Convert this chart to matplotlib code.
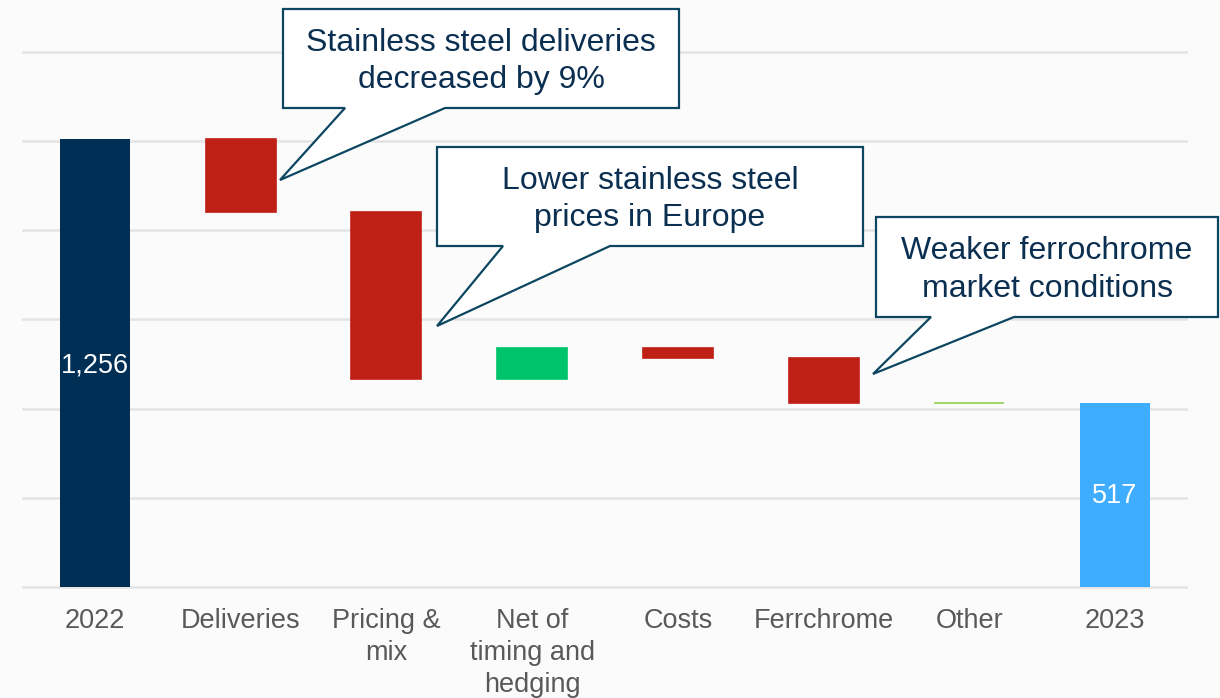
import matplotlib
import matplotlib.pyplot as plt
from matplotlib.patches import Polygon

matplotlib.use("Agg")

plt.rcParams["font.family"] = ["Liberation Sans", "DejaVu Sans"]

categories = ["2022", "Deliveries", "Pricing &\nmix", "Net of\ntiming and\nhedging",
              "Costs", "Ferrchrome", "Other", "2023"]
start_value = 1256
deltas = [-205, -467, 85, -26, -126, 0]
end_value = 517
delta_colors = ["#be2016", "#be2016", "#00c46a", "#be2016", "#be2016", "#92d050"]

callouts = [
    ("Stainless steel deliveries\ndecreased by 9%", (283, 9, 679, 108), (345, 445), (280, 180)),
    ("Lower stainless steel\nprices in Europe", (437, 147, 863, 246), (503, 610), (437, 326)),
    ("Weaker ferrochrome\nmarket conditions", (876, 217, 1218, 317), (931, 1014), (873, 374)),
]

W, H = 1220, 698
fig = plt.figure(figsize=(W / 100, H / 100), dpi=100, facecolor="#fbfbfb")
ax = fig.add_axes([22 / W, 1 - 589 / H, (1188 - 22) / W, (589 - 50) / H])
ax.set_facecolor("#fbfbfb")

width = 0.48
ax.bar(0, start_value, width=width, color="#002f56", zorder=3)
level = start_value
for i, (d, c) in enumerate(zip(deltas, delta_colors), start=1):
    bottom = level + min(d, 0)
    ax.bar(i, abs(d), bottom=bottom, width=width, color=c,
           edgecolor=c, linewidth=1.2, zorder=3)
    level += d
ax.bar(len(categories) - 1, end_value, width=width, color="#3fadff", zorder=3)

ax.text(0, 622, f"{start_value:,}", color="white", ha="center", va="center",
        fontsize=19.5, zorder=4)
ax.text(len(categories) - 1, 255, f"{end_value:,}", color="white", ha="center",
        va="center", fontsize=19.5, zorder=4)

ax.set_xlim(-0.5, len(categories) - 0.5)
ax.set_ylim(-5, 1505)
ax.set_yticks(range(0, 1501, 250))
ax.set_yticklabels([])
ax.tick_params(axis="y", length=0)
ax.set_xticks(range(len(categories)))
ax.set_xticklabels(categories, fontsize=19.5, color="#595959", linespacing=1.3)
ax.tick_params(axis="x", length=0, pad=14)
ax.grid(axis="y", color="#e4e4e4", linewidth=1.8, zorder=0)
ax.set_axisbelow(True)
for s in ax.spines.values():
    s.set_visible(False)


def fx(px):
    return px / W


def fy(py):
    return 1 - py / H


for text, (x0, y0, x1, y1), (b0, b1), (tx, ty) in callouts:
    pts = [(x0, y0), (x1, y0), (x1, y1), (b1, y1), (tx, ty), (b0, y1), (x0, y1)]
    poly = Polygon([(fx(x), fy(y)) for x, y in pts], closed=True,
                   transform=fig.transFigure, facecolor="white",
                   edgecolor="#0d4661", linewidth=1.6, joinstyle="miter", zorder=5)
    fig.add_artist(poly)
    fig.text(fx((x0 + x1) / 2), fy((y0 + y1) / 2 + 3), text, ha="center", va="center",
             fontsize=23, color="#0b2f50", linespacing=1.32, zorder=6)

fig.savefig("out.png", dpi=100, facecolor=fig.get_facecolor())
